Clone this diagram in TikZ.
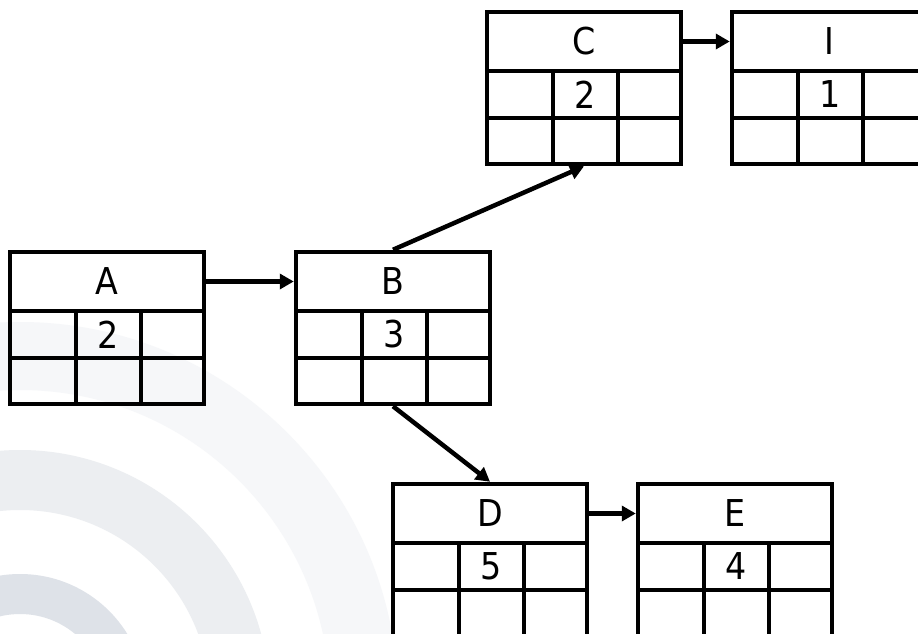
\documentclass[tikz,border=0pt]{standalone}
\usepackage{fontspec}
\setmainfont{DejaVu Sans Condensed}
\usetikzlibrary{arrows.meta}
\definecolor{wmA}{HTML}{F6F7F9}
\definecolor{wmB}{HTML}{ECEEF1}
\definecolor{wmC}{HTML}{DEE2E8}
\tikzset{
  boxnode/.style={draw, line width=4.5pt, minimum width=194pt, minimum height=152pt, inner sep=0pt},
  hdr/.style={minimum width=194pt, minimum height=59pt, inner sep=0pt, outer sep=2.25pt, font=\fontsize{37}{40}\selectfont},
  valtext/.style={inner sep=0pt, font=\fontsize{37}{40}\selectfont},
  gridline/.style={line width=4.5pt},
  conn/.style={line width=4.5pt, -{Triangle[length=14pt,width=15pt]}},
}
\newcommand\pbox[5]{%
  \node[boxnode] (#1) at ({#2+97},{#3+76}) {};
  \node[hdr] (#1h) at ({#2+97},{#3+29.5}) {#4};
  \node[valtext] (#1v) at ({#2+98.5},{#3+82.5}) {#5};
  \draw[gridline] ({#2},{#3+59}) -- ({#2+194},{#3+59});
  \draw[gridline] ({#2},{#3+106}) -- ({#2+194},{#3+106});
  \draw[gridline] ({#2+66},{#3+59}) -- ({#2+66},{#3+152});
  \draw[gridline] ({#2+131},{#3+59}) -- ({#2+131},{#3+152});
}
\begin{document}
\begin{tikzpicture}[x=1pt,y=-1pt]
\useasboundingbox (0,0) rectangle (918,634);
\clip (0,0) rectangle (918,634);
\fill[white] (0,0) rectangle (918,634);
% watermark arcs
\fill[wmA, even odd rule] (20,700) circle (378pt) circle (310pt);
\fill[wmB, even odd rule] (20,700) circle (250pt) circle (190pt);
\fill[wmC, even odd rule] (20,700) circle (126pt) circle (86pt);
% boxes
\pbox{A}{10}{252}{A}{2}
\pbox{B}{296}{252}{B}{3}
\pbox{C}{487}{12}{C}{2}
\pbox{I}{732}{12}{I}{1}
\pbox{D}{393}{484}{D}{5}
\pbox{E}{638}{484}{E}{4}
% connectors
\draw[conn] (Ah.east) -- (Bh.west);
\draw[conn] (Ch.east) -- (Ih.west);
\draw[conn] (Dh.east) -- (Eh.west);
\draw[conn] (B.north) -- (C.south);
\draw[conn] (B.south) -- (D.north);
\end{tikzpicture}
\end{document}
